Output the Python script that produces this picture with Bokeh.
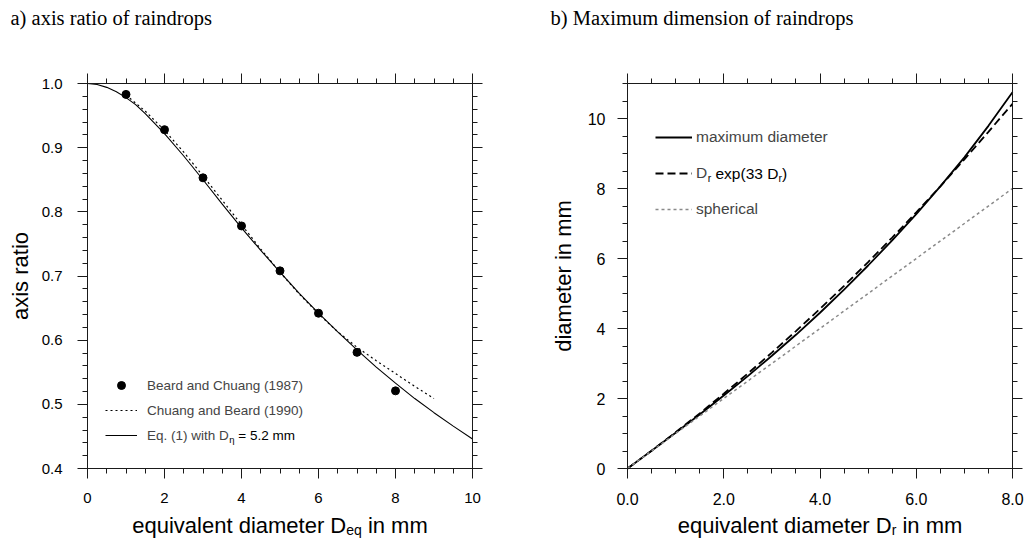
from math import pi
from bokeh.plotting import figure
from bokeh.models import (Range1d, SingleIntervalTicker, LinearAxis, PrintfTickFormatter,
                          BasicTickFormatter, CustomJSTickFormatter, Legend, LegendItem, Label)
from bokeh.layouts import row
from bokeh.embed import file_html
from bokeh.resources import INLINE

# ---------------- data ----------------
# a) axis ratio
bc87_d = [1, 2, 3, 4, 5, 6, 7, 8]
bc87_ratio = [0.983, 0.928, 0.853, 0.778, 0.708, 0.642, 0.581, 0.521]

cb90_d = [1.0, 1.5, 2.0, 2.5, 3.0, 3.5, 4.0, 4.5, 5.0, 5.5, 6.0, 6.5, 7.0, 7.5, 8.0, 8.5, 9.0]
cb90_ratio = [0.982, 0.957, 0.927, 0.893, 0.856, 0.818, 0.780, 0.742, 0.706, 0.672,
              0.641, 0.613, 0.589, 0.568, 0.548, 0.528, 0.509]

eq1_d = [0.0, 0.25, 0.5, 0.75, 1.0, 1.25, 1.5, 2.0, 2.5, 3.0, 3.5, 4.0, 4.5, 5.0, 5.5,
         6.0, 6.5, 7.0, 7.5, 8.0, 8.5, 9.0, 9.5, 10.0]
eq1_ratio = [1.000, 0.9985, 0.994, 0.987, 0.978, 0.967, 0.953, 0.922, 0.887, 0.850, 0.812,
             0.775, 0.740, 0.706, 0.673, 0.642, 0.613, 0.585, 0.558, 0.533, 0.509, 0.487,
             0.466, 0.446]

# b) maximum dimension
dr = [0.0, 0.5, 1.0, 1.5, 2.0, 2.5, 3.0, 3.5, 4.0, 4.5, 5.0, 5.5, 6.0, 6.5, 7.0, 7.5, 8.0]
dmax = [0.0, 0.505, 1.02, 1.545, 2.085, 2.64, 3.22, 3.82, 4.45, 5.11, 5.80, 6.52, 7.27,
        8.06, 8.89, 9.79, 10.75]
dexp = [0.0, 0.508, 1.034, 1.576, 2.136, 2.713, 3.312, 3.926, 4.563, 5.219, 5.899, 6.598,
        7.317, 8.061, 8.83, 9.62, 10.42]
sph_d = [0.0, 8.0]
sph = [0.0, 8.0]

SANS = "Liberation Sans"
SERIF = "Liberation Serif"

# Arial / Liberation Sans advance widths (per 1000 em)
W = {' ': 278, '(': 333, ')': 333, '.': 278, '=': 584, 'D': 722, 'E': 667, 'η': 556,
     'a': 556, 'b': 556, 'c': 500, 'd': 556, 'e': 556, 'f': 278, 'g': 556, 'h': 556,
     'i': 222, 'l': 222, 'm': 833, 'n': 556, 'o': 556, 'p': 556, 'q': 556, 'r': 333,
     's': 500, 't': 278, 'u': 556, 'v': 500, 'w': 722, 'x': 500, 'y': 500}
for _d in "0123456789":
    W[_d] = 556


def tw(text, size):
    return sum(W.get(c, 556) for c in text) * size / 1000.0


FIG_W, FIG_H = 513, 539
BOX = 385            # plot box size in px
TOP, BOTTOM = 83, 71  # space above / below the box
BASE_FIX = 7          # alphabetic-baseline correction in px


def make_fig(xb, yb, left, xint, yint, xminor, yminor, xfmt, yfmt, fs, ystand):
    """Figure whose frame fills the whole figure; the visible box is drawn by
    fixed-location axes so that texts outside the box are not clipped."""
    right = FIG_W - left - BOX
    sx = BOX / (xb[1] - xb[0])
    sy = BOX / (yb[1] - yb[0])
    p = figure(width=FIG_W, height=FIG_H,
               x_range=Range1d(xb[0] - left / sx, xb[1] + right / sx),
               y_range=Range1d(yb[0] - BOTTOM / sy, yb[1] + TOP / sy),
               x_axis_location=None, y_axis_location=None,
               output_backend="svg", toolbar_location=None,
               min_border=0, min_border_left=0, min_border_right=0,
               min_border_top=0, min_border_bottom=0)
    p.xgrid.visible = False
    p.ygrid.visible = False
    p.outline_line_color = None
    p.background_fill_color = "white"
    p.border_fill_color = "white"
    xt = SingleIntervalTicker(interval=xint, num_minor_ticks=xminor)
    yt = SingleIntervalTicker(interval=yint, num_minor_ticks=yminor)
    blank = CustomJSTickFormatter(code="return ''")
    bottom = LinearAxis(ticker=xt, fixed_location=yb[0], bounds=xb,
                        formatter=PrintfTickFormatter(format=xfmt) if xfmt else BasicTickFormatter())
    leftax = LinearAxis(ticker=yt, fixed_location=xb[0], bounds=yb,
                        formatter=PrintfTickFormatter(format=yfmt) if yfmt else BasicTickFormatter())
    top = LinearAxis(ticker=xt, fixed_location=yb[1], bounds=xb, formatter=blank)
    rightax = LinearAxis(ticker=yt, fixed_location=xb[1], bounds=yb, formatter=blank)
    for ax in [bottom, leftax, top, rightax]:
        ax.axis_line_color = "#1a1a1a"
        ax.axis_line_width = 1
        ax.major_tick_line_color = "#1a1a1a"
        ax.minor_tick_line_color = "#1a1a1a"
        ax.major_tick_in = 0
        ax.major_tick_out = 10
        ax.minor_tick_in = 0
        ax.minor_tick_out = 5
        ax.major_label_text_font = SANS
        ax.major_label_text_font_size = f"{fs}px"
        ax.major_label_text_color = "black"
    top.major_label_standoff = 0
    rightax.major_label_standoff = 0
    bottom.major_label_standoff = 14
    leftax.major_label_standoff = ystand
    p.add_layout(bottom, "below")
    p.add_layout(leftax, "left")
    p.add_layout(top, "above")
    p.add_layout(rightax, "right")
    return p


def lab(p, origin, fx, fy, text, size, font=SANS, baseline="alphabetic", align="left",
        angle=0.0):
    """Text placed fx px right / fy px up from the bottom-left corner of the plot box."""
    if baseline == "alphabetic":
        fy = fy + BASE_FIX
    p.add_layout(Label(x=origin[0], y=origin[1], x_offset=fx, y_offset=fy,
                       text=text, text_font=font, text_font_size=f"{size}px",
                       text_color="black", text_baseline=baseline, text_align=align,
                       angle=angle))


XT_FS, XT_SUB = 22, 14
XT_Y, XT_SUBY = -64, -68
SP = tw(" ", XT_FS)


def xtitle(p, origin, main, sub, tail):
    tot = tw(main, XT_FS) + tw(sub, XT_SUB) + SP + tw(tail, XT_FS)
    x0 = BOX / 2 - tot / 2
    lab(p, origin, x0, XT_Y, main, XT_FS)
    lab(p, origin, x0 + tw(main, XT_FS), XT_SUBY, sub, XT_SUB)
    lab(p, origin, x0 + tw(main, XT_FS) + tw(sub, XT_SUB) + SP, XT_Y, tail, XT_FS)


# ---------------- panel a ----------------
LEFT_A = 87
p1 = make_fig((0, 10), (0.4, 1.0), LEFT_A, 2, 0.1, 4, 5, None, "%.1f", 15, 15)
oa = (0, 0.4)
r_eq = p1.line(eq1_d, eq1_ratio, line_color="black", line_width=1.1)
r_cb = p1.line(cb90_d, cb90_ratio, line_color="black", line_width=1.2, line_dash="2 3")
r_pts = p1.scatter(bc87_d, bc87_ratio, marker="circle", size=8, fill_color="black",
                   line_color="black")

L1 = dict(x=18, y=23, gw=32, st=10, fs=13.5)
leg1 = Legend(items=[LegendItem(label="Beard and Chuang (1987)", renderers=[r_pts]),
                     LegendItem(label="Chuang and Beard (1990)", renderers=[r_cb]),
                     LegendItem(label="Eq. (1) with D", renderers=[r_eq])],
              location=(LEFT_A + L1["x"], BOTTOM + L1["y"]), orientation="vertical",
              glyph_width=L1["gw"], glyph_height=20, label_height=20, label_width=20,
              label_standoff=L1["st"], spacing=5, padding=0, margin=0,
              border_line_color=None, background_fill_alpha=0,
              label_text_font=SANS, label_text_font_size=f"{L1['fs']}px")
p1.add_layout(leg1)
tx = L1["x"] + L1["gw"] + L1["st"]
row3_y = L1["y"] + 10
x_eta = tx + tw("Eq. (1) with D", L1["fs"])
lab(p1, oa, x_eta, row3_y - 4, "η", 9.5, baseline="middle")
lab(p1, oa, x_eta + tw("η", 9.5) + tw(" ", L1["fs"]), row3_y, "= 5.2 mm", L1["fs"],
    baseline="middle")

xtitle(p1, oa, "equivalent diameter D", "eq", "in mm")
lab(p1, oa, -67.5, BOX / 2, "axis ratio", 22, baseline="middle", align="center", angle=pi / 2)
lab(p1, oa, 10 - LEFT_A, BOX + TOP - 24, "a) axis ratio of raindrops", 20.5, font=SERIF)

# ---------------- panel b ----------------
LEFT_B = 114
p2 = make_fig((0, 8), (0, 11), LEFT_B, 2, 2, 4, 4, "%.1f", None, 16, 12)
ob = (0, 0)
r_max = p2.line(dr, dmax, line_color="black", line_width=1.8)
r_exp = p2.line(dr, dexp, line_color="black", line_width=1.8, line_dash="8 4")
r_sph = p2.line(sph_d, sph, line_color="#8a8a8a", line_width=1.5, line_dash="3 3")

L2 = dict(x=28, y=249, gw=37, st=4, fs=15.5)
leg2 = Legend(items=[LegendItem(label="maximum diameter", renderers=[r_max]),
                     LegendItem(label="D", renderers=[r_exp]),
                     LegendItem(label="spherical", renderers=[r_sph])],
              location=(LEFT_B + L2["x"], BOTTOM + L2["y"]), orientation="vertical",
              glyph_width=L2["gw"], glyph_height=20, label_height=20, label_width=20,
              label_standoff=L2["st"], spacing=16, padding=0, margin=0,
              border_line_color=None, background_fill_alpha=0,
              label_text_font=SANS, label_text_font_size=f"{L2['fs']}px")
p2.add_layout(leg2)
tx2 = L2["x"] + L2["gw"] + L2["st"]
row2_y = L2["y"] + 10 + 36
xa = tx2 + tw("D", L2["fs"])
lab(p2, ob, xa, row2_y - 4, "r", 10.5, baseline="middle")
xb_ = xa + tw("r", 10.5) + tw(" ", L2["fs"])
lab(p2, ob, xb_, row2_y, "exp(33 D", L2["fs"], baseline="middle")
xc = xb_ + tw("exp(33 D", L2["fs"])
lab(p2, ob, xc, row2_y - 4, "r", 10.5, baseline="middle")
lab(p2, ob, xc + tw("r", 10.5), row2_y, ")", L2["fs"], baseline="middle")

xtitle(p2, ob, "equivalent diameter D", "r", "in mm")
lab(p2, ob, -64, BOX / 2, "diameter in mm", 22, baseline="middle", align="center", angle=pi / 2)
lab(p2, ob, 550 - 513 - LEFT_B, BOX + TOP - 24, "b) Maximum dimension of raindrops", 20.5,
    font=SERIF)

layout = row(p1, p2)
open("out.html", "w").write(file_html(layout, INLINE))
